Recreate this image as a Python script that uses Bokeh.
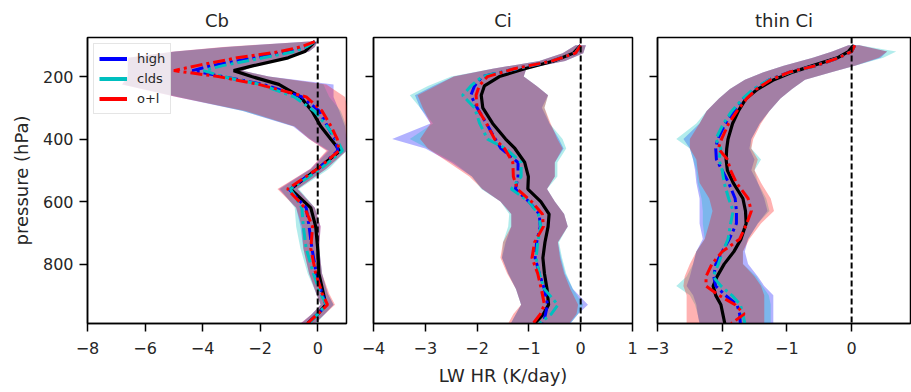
import numpy as np
from bokeh.plotting import figure
from bokeh.layouts import row
from bokeh.models import Span, Legend, LegendItem, FixedTicker, Range1d, CustomLabelingPolicy
from bokeh.embed import file_html
from bokeh.resources import INLINE

# ---------------- data ----------------
titles = ["Cb", "Ci", "thin Ci"]
series_names = ["high", "clds", "o+l"]
y_ticks = [200, 400, 600, 800]

# Cb
cb_p = [88, 105, 120, 140, 165, 181, 200, 225, 265, 310, 360, 400, 437, 495, 560, 620, 680, 750, 830, 895, 930, 960, 990]
cb_ref = [-0.10, -0.28, -0.45, -1.03, -2.23, -2.92, -2.30, -1.35, -0.60, -0.20, 0.11, 0.45, 0.78, 0.00, -0.94, -0.24, -0.07, 0.00, 0.04, 0.20, 0.28, 0.00, -0.35]
cb_high = [-0.10, -0.45, -1.00, -2.20, -3.70, -4.36, -3.30, -1.90, -0.55, 0.05, 0.34, 0.60, 0.70, 0.02, -1.00, -0.40, -0.30, -0.20, -0.05, 0.15, 0.30, 0.00, -0.35]
cb_clds = [-0.10, -0.40, -0.80, -1.90, -3.30, -3.97, -3.30, -2.00, -0.82, -0.12, 0.33, 0.65, 0.86, 0.10, -0.95, -0.55, -0.50, -0.40, -0.15, 0.10, 0.30, 0.00, -0.30]
cb_ol = [-0.10, -0.59, -1.30, -2.80, -4.20, -5.00, -3.45, -2.05, -0.40, 0.15, 0.47, 0.68, 0.74, 0.00, -1.05, -0.45, -0.18, -0.24, -0.07, 0.16, 0.34, 0.00, -0.36]
cb_high_lo = [-0.30, -3.20, -4.97, -6.60, -6.60, -6.60, -6.60, -6.80, -4.90, -2.60, -0.85, -0.30, 0.35, -0.25, -1.35, -0.75, -0.60, -0.50, -0.30, -0.05, 0.10, -0.20, -0.60]
cb_high_hi = [0.00, -0.10, -0.30, -1.05, -2.20, -2.60, -1.70, 0.55, 0.55, 0.75, 0.95, 1.00, 1.00, 0.30, -0.70, -0.10, 0.10, 0.05, 0.15, 0.35, 0.55, 0.25, -0.10]
cb_clds_lo = [-0.30, -3.10, -4.90, -6.50, -6.60, -6.60, -6.60, -6.70, -4.80, -2.60, -0.80, -0.25, 0.40, -0.20, -1.30, -0.80, -0.75, -0.60, -0.35, -0.05, 0.10, -0.20, -0.55]
cb_clds_hi = [0.00, -0.10, -0.30, -1.05, -2.20, -2.60, -1.70, 0.20, 0.40, 0.80, 1.00, 1.00, 1.00, 0.40, -0.65, -0.10, 0.05, 0.05, 0.15, 0.35, 0.55, 0.25, -0.05]
cb_ol_lo = [-0.30, -3.30, -5.00, -6.60, -6.60, -6.60, -6.60, -6.80, -4.90, -2.50, -0.80, -0.30, 0.30, -0.25, -1.40, -0.75, -0.55, -0.50, -0.30, -0.05, 0.10, -0.20, -0.60]
cb_ol_hi = [0.00, -0.10, -0.30, -1.05, -2.20, -2.60, -1.70, 0.30, 0.95, 1.05, 1.05, 1.00, 1.00, 0.30, -0.70, -0.10, 0.10, 0.05, 0.15, 0.40, 0.60, 0.25, -0.10]

# Ci
ci_p = [100, 125, 150, 175, 200, 230, 260, 300, 350, 400, 430, 475, 520, 560, 600, 640, 680, 730, 780, 830, 880, 930, 960, 990]
ci_ref = [0.00, -0.14, -0.52, -1.08, -1.57, -1.86, -1.92, -1.89, -1.70, -1.45, -1.27, -1.08, -1.01, -1.02, -0.77, -0.61, -0.63, -0.69, -0.73, -0.70, -0.65, -0.62, -0.72, -0.89]
ci_high = [0.00, -0.10, -0.55, -1.25, -1.90, -2.05, -2.12, -2.00, -1.82, -1.65, -1.54, -1.21, -1.21, -1.26, -1.00, -0.80, -0.78, -0.85, -0.88, -0.80, -0.70, -0.64, -0.68, -0.72]
ci_clds = [0.00, -0.10, -0.55, -1.25, -1.90, -2.12, -2.28, -2.05, -1.95, -1.80, -1.45, -1.15, -1.15, -1.34, -1.00, -0.82, -0.77, -0.83, -0.86, -0.80, -0.70, -0.44, -0.57, -0.80]
ci_ol = [0.00, -0.10, -0.55, -1.28, -1.80, -1.96, -2.02, -2.00, -1.82, -1.66, -1.47, -1.31, -1.30, -1.22, -0.95, -0.74, -0.72, -0.89, -0.94, -0.83, -0.76, -0.70, -0.78, -0.92]
ci_high_lo = [-0.10, -0.35, -0.80, -1.70, -2.45, -2.85, -3.20, -3.10, -2.90, -3.64, -3.00, -2.50, -2.10, -1.90, -1.55, -1.34, -1.34, -1.45, -1.52, -1.40, -1.25, -1.15, -1.25, -1.35]
ci_high_hi = [0.10, 0.05, -0.30, -1.05, -1.10, -0.85, -0.63, -0.75, -0.60, -0.42, -0.33, -0.50, -0.50, -0.65, -0.50, -0.32, -0.25, -0.44, -0.38, -0.30, -0.15, 0.14, -0.05, -0.20]
ci_clds_lo = [-0.10, -0.35, -0.80, -1.70, -2.50, -2.95, -3.30, -3.10, -2.85, -3.30, -2.95, -2.45, -2.10, -1.92, -1.55, -1.38, -1.40, -1.50, -1.52, -1.40, -1.25, -1.15, -1.25, -1.35]
ci_clds_hi = [0.10, 0.05, -0.30, -1.05, -1.10, -0.85, -0.63, -0.70, -0.60, -0.35, -0.28, -0.45, -0.45, -0.65, -0.50, -0.32, -0.25, -0.42, -0.36, -0.28, -0.15, 0.05, -0.05, -0.20]
ci_ol_lo = [-0.10, -0.35, -0.80, -1.70, -2.45, -2.80, -3.15, -3.05, -2.90, -3.10, -2.95, -2.55, -2.15, -1.90, -1.55, -1.34, -1.34, -1.50, -1.55, -1.42, -1.25, -1.15, -1.30, -1.40]
ci_ol_hi = [0.10, 0.05, -0.30, -1.05, -1.10, -0.85, -0.63, -0.70, -0.58, -0.45, -0.35, -0.50, -0.50, -0.65, -0.50, -0.32, -0.25, -0.44, -0.40, -0.32, -0.20, -0.05, -0.08, -0.22]

# thin Ci
tc_p = [100, 120, 140, 165, 185, 210, 240, 270, 310, 350, 400, 430, 465, 500, 540, 590, 630, 670, 720, 760, 800, 840, 870, 900, 930, 960, 990]
tc_ref = [0.03, -0.05, -0.22, -0.60, -0.90, -1.20, -1.45, -1.63, -1.75, -1.84, -1.91, -1.93, -1.94, -1.92, -1.83, -1.68, -1.64, -1.63, -1.71, -1.82, -1.97, -2.08, -2.14, -2.10, -2.02, -1.99, -1.96]
tc_high = [0.05, 0.00, -0.20, -0.55, -0.95, -1.27, -1.50, -1.66, -1.82, -1.95, -2.07, -2.10, -2.09, -2.00, -1.90, -1.80, -1.78, -1.78, -1.89, -2.00, -2.10, -2.13, -2.10, -1.95, -1.77, -1.73, -1.72]
tc_clds = [0.05, 0.00, -0.20, -0.55, -0.93, -1.27, -1.52, -1.68, -1.85, -1.98, -2.10, -2.02, -2.05, -2.00, -1.97, -1.90, -1.83, -1.87, -1.91, -1.99, -2.06, -2.14, -2.02, -1.85, -1.72, -1.68, -1.65]
tc_ol = [0.05, 0.00, -0.20, -0.55, -0.95, -1.25, -1.47, -1.62, -1.77, -1.90, -2.01, -2.06, -1.92, -1.87, -1.78, -1.60, -1.55, -1.62, -1.73, -2.00, -2.16, -2.25, -2.25, -2.05, -1.80, -1.66, -1.86]
tc_high_lo = [-0.05, -0.30, -0.60, -1.05, -1.35, -1.65, -1.88, -2.05, -2.24, -2.35, -2.60, -2.50, -2.45, -2.42, -2.40, -2.35, -2.35, -2.35, -2.30, -2.40, -2.45, -2.50, -2.55, -2.45, -2.40, -2.38, -2.35]
tc_high_hi = [0.12, 0.55, 0.45, 0.05, -0.30, -0.72, -0.92, -1.10, -1.27, -1.42, -1.55, -1.58, -1.50, -1.55, -1.45, -1.35, -1.30, -1.45, -1.60, -1.65, -1.60, -1.45, -1.35, -1.21, -1.21, -1.21, -1.21]
tc_clds_lo = [-0.05, -0.30, -0.60, -1.05, -1.35, -1.65, -1.88, -2.05, -2.24, -2.40, -2.71, -2.50, -2.45, -2.40, -2.38, -2.32, -2.30, -2.30, -2.27, -2.40, -2.45, -2.55, -2.71, -2.50, -2.42, -2.38, -2.35]
tc_clds_hi = [0.12, 0.69, 0.49, 0.05, -0.30, -0.72, -0.92, -1.10, -1.27, -1.42, -1.55, -1.55, -1.40, -1.50, -1.45, -1.32, -1.27, -1.45, -1.60, -1.68, -1.68, -1.47, -1.38, -1.28, -1.25, -1.25, -1.25]
tc_ol_lo = [-0.05, -0.30, -0.60, -1.05, -1.35, -1.65, -1.88, -2.05, -2.24, -2.35, -2.50, -2.50, -2.40, -2.38, -2.35, -2.20, -2.15, -2.20, -2.27, -2.40, -2.50, -2.58, -2.60, -2.55, -2.55, -2.55, -2.55]
tc_ol_hi = [0.12, 0.55, 0.42, 0.05, -0.30, -0.72, -0.92, -1.10, -1.27, -1.40, -1.52, -1.55, -1.45, -1.50, -1.40, -1.25, -1.20, -1.40, -1.58, -1.68, -1.68, -1.50, -1.40, -1.35, -1.35, -1.35, -1.35]

# axes
x_ranges = [(-8, 1), (-4, 1), (-3, 0.91)]
x_ticks = [[-8, -6, -4, -2, 0], [-4, -3, -2, -1, 0, 1], [-3, -2, -1, 0]]
x_tick_labels = [["\u22128", "\u22126", "\u22124", "\u22122", "0"],
                 ["\u22124", "\u22123", "\u22122", "\u22121", "0", "1"],
                 ["\u22123", "\u22122", "\u22121", "0"]]
x_label = "LW HR (K/day)"
y_label = "pressure (hPa)"

panels = [
    dict(p=cb_p, ref=cb_ref, s=[cb_high, cb_clds, cb_ol],
         lo=[cb_high_lo, cb_clds_lo, cb_ol_lo], hi=[cb_high_hi, cb_clds_hi, cb_ol_hi]),
    dict(p=ci_p, ref=ci_ref, s=[ci_high, ci_clds, ci_ol],
         lo=[ci_high_lo, ci_clds_lo, ci_ol_lo], hi=[ci_high_hi, ci_clds_hi, ci_ol_hi]),
    dict(p=tc_p, ref=tc_ref, s=[tc_high, tc_clds, tc_ol],
         lo=[tc_high_lo, tc_clds_lo, tc_ol_lo], hi=[tc_high_hi, tc_clds_hi, tc_ol_hi]),
]

# ---------------- style ----------------
colors = ["#0000ff", "#00bfbf", "#ff0000"]
FONT = "DejaVu Sans"
TXT = "#262626"
borders = [(87, 13), (14, 12), (13, 1)]
frame_widths = [259, 259, 253]

no_labels = CustomLabelingPolicy(code="""
    try {
        const r = indices.clone()
        for (let i = 0; i < r.size; i++) r.unset(i)
        return r
    } catch (e) {
        return indices
    }
""")

figs = []
for i, d in enumerate(panels):
    f = figure(output_backend="svg", toolbar_location=None,
               frame_width=frame_widths[i], frame_height=286,
               min_border_left=borders[i][0], min_border_right=borders[i][1],
               min_border_top=37, min_border_bottom=69,
               x_range=Range1d(*x_ranges[i]), y_range=Range1d(990, 75))
    f.background_fill_color = "white"
    f.border_fill_color = "white"
    f.outline_line_color = "black"
    f.outline_line_width = 1.5
    f.xgrid.visible = False
    f.ygrid.visible = False

    f.title.text = titles[i]
    f.title.align = "center"
    f.title.text_font = FONT
    f.title.text_font_size = "18px"
    f.title.text_font_style = "normal"
    f.title.text_color = TXT
    f.title.standoff = 14

    for ax in (f.xaxis[0], f.yaxis[0]):
        ax.axis_line_width = 1.5
        ax.axis_line_color = "black"
        ax.major_tick_line_width = 1.5
        ax.major_tick_line_color = "black"
        ax.major_tick_out = 8
        ax.major_tick_in = 0
        ax.minor_tick_line_color = None
        ax.major_label_text_font = FONT
        ax.major_label_text_font_size = "16px"
        ax.major_label_text_color = TXT
        ax.axis_label_text_font = FONT
        ax.axis_label_text_font_size = "18px"
        ax.axis_label_text_font_style = "normal"
        ax.axis_label_text_color = TXT

    f.xaxis[0].ticker = FixedTicker(ticks=x_ticks[i])
    f.xaxis[0].major_label_overrides = dict(zip(x_ticks[i], x_tick_labels[i]))
    f.xaxis[0].major_label_standoff = 10
    f.yaxis[0].ticker = FixedTicker(ticks=y_ticks)
    f.yaxis[0].major_label_standoff = 6
    if i == 0:
        f.yaxis[0].axis_label = y_label
        f.yaxis[0].axis_label_standoff = 8
    else:
        f.yaxis[0].major_label_policy = no_labels
        f.yaxis[0].major_label_text_font_size = "0px"
        f.yaxis[0].major_label_standoff = 0
    if i == 1:
        f.xaxis[0].axis_label = x_label
        f.xaxis[0].axis_label_standoff = 8

    # shaded spreads
    for k in range(3):
        f.harea(x1=d["lo"][k], x2=d["hi"][k], y=d["p"], fill_color=colors[k], fill_alpha=0.3)
    # reference profile
    f.line(x=d["ref"], y=d["p"], line_color="black", line_width=3.2)
    # experiment profiles
    for k in range(3):
        f.line(x=d["s"][k], y=d["p"], line_color=colors[k], line_width=3,
               line_dash="12 4 3 4")
    f.add_layout(Span(location=0, dimension="height", line_color="black",
                      line_width=2, line_dash="6 3"))

    if i == 0:
        items = []
        for k in range(3):
            r = f.line(x=[np.nan], y=[np.nan], line_color=colors[k], line_width=4)
            items.append(LegendItem(label=series_names[k], renderers=[r]))
        leg = Legend(items=items, location="top_left")
        leg.margin = 6
        leg.padding = 5
        leg.spacing = 1
        leg.glyph_width = 28
        leg.glyph_height = 19
        leg.label_height = 19
        leg.label_standoff = 10
        leg.label_text_font = FONT
        leg.label_text_font_size = "13px"
        leg.label_text_color = TXT
        leg.border_line_color = "#cccccc"
        leg.border_line_width = 1
        leg.background_fill_alpha = 0.8
        f.add_layout(leg)
    figs.append(f)

layout = row(*figs)
open("out.html", "w").write(file_html(layout, INLINE))
